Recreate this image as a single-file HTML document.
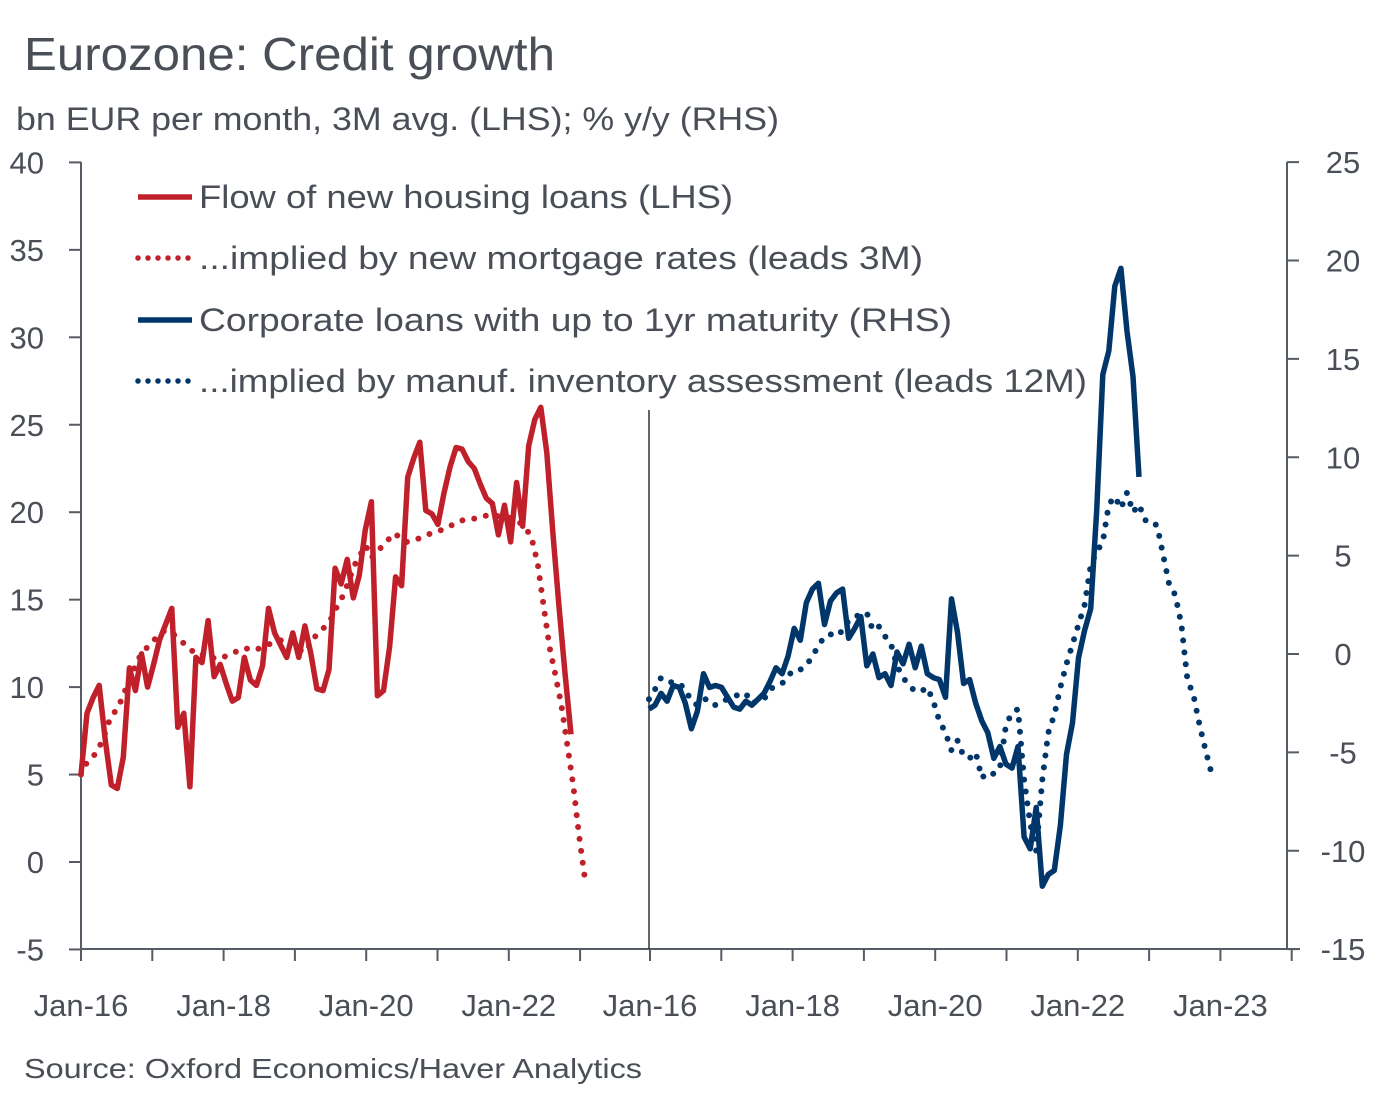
<!DOCTYPE html>
<html><head><meta charset="utf-8"><style>
html,body{margin:0;padding:0;background:#fff;}
svg{display:block;font-family:"Liberation Sans",sans-serif;}
</style></head><body>
<svg id="chart" width="1383" height="1105" viewBox="0 0 1383 1105" xmlns="http://www.w3.org/2000/svg">
<text x="24" y="70" font-size="46" fill="#4a4f57" textLength="531" lengthAdjust="spacingAndGlyphs">Eurozone: Credit growth</text>
<text x="16" y="130" font-size="32" fill="#4a4f57" textLength="763" lengthAdjust="spacingAndGlyphs">bn EUR per month, 3M avg. (LHS); % y/y (RHS)</text>
<text x="24" y="1078" font-size="28" fill="#4a4f57" textLength="618" lengthAdjust="spacingAndGlyphs">Source: Oxford Economics/Haver Analytics</text>
<g id="axes"></g>
<g id="series"></g>
<g id="legend"></g>
</svg>
<script>
// ---- data ----
const leftTicks = [40,35,30,25,20,15,10,5,0,-5];
const rightTicks = [25,20,15,10,5,0,-5,-10,-15];
const leftXLabels = ["Jan-16","Jan-18","Jan-20","Jan-22"];
const rightXLabels = ["Jan-16","Jan-18","Jan-20","Jan-22","Jan-23"];
const housingFlow = [5.0,8.5,9.4,10.1,7.0,4.4,4.2,6.0,11.1,9.8,11.9,10.0,11.3,12.7,13.6,14.5,7.7,8.5,4.3,11.7,11.4,13.8,10.6,11.3,10.2,9.2,9.4,11.7,10.4,10.1,11.2,14.5,13.1,12.4,11.7,13.1,11.7,13.5,11.9,9.9,9.8,11.0,16.8,15.9,17.3,15.1,16.4,19.0,20.6,9.5,9.8,12.3,16.3,15.8,22.0,23.1,24.0,20.1,19.9,19.3,21.1,22.6,23.7,23.6,22.9,22.5,21.6,20.8,20.5,18.7,20.4,18.3,21.7,19.2,23.8,25.3,26.0,23.4,18.8,14.6,10.8,7.3];
const housingImplied = [5.0,5.7,6.0,6.5,7.3,8.3,8.7,9.4,10.3,11.1,11.8,12.2,12.6,12.9,13.2,13.2,12.9,12.6,12.3,12.0,11.8,11.9,11.7,11.6,11.7,11.9,12.0,12.2,12.2,12.1,12.2,12.3,12.5,12.6,12.7,12.7,12.4,12.1,12.0,12.7,13.1,13.4,13.8,14.5,15.1,15.9,16.9,17.5,18.1,17.4,17.8,18.1,18.5,18.8,18.4,18.3,18.4,18.5,18.6,18.8,18.9,19.0,19.2,19.3,19.5,19.6,19.6,19.7,19.8,19.8,19.8,19.7,19.7,19.6,19.4,19.1,18.5,17.1,14.7,12.3,10.7,9.0,6.7,4.4,1.5,-1.0];
const corpLoans = [-2.8,-2.6,-2.0,-2.4,-1.6,-1.7,-2.5,-3.8,-2.9,-1.0,-1.7,-1.6,-1.7,-2.2,-2.7,-2.8,-2.4,-2.6,-2.3,-2.0,-1.4,-0.7,-1.0,-0.1,1.3,0.7,2.6,3.3,3.6,1.5,2.7,3.1,3.3,0.8,1.3,1.9,-0.6,0.0,-1.2,-1.0,-1.6,0.1,-0.5,0.5,-0.7,0.4,-1.0,-1.2,-1.3,-2.2,2.8,1.1,-1.5,-1.3,-2.5,-3.4,-4.0,-5.3,-4.7,-5.6,-5.8,-4.7,-9.3,-9.9,-7.8,-11.8,-11.2,-11.0,-8.7,-5.1,-3.5,-0.2,1.2,2.3,7.3,14.2,15.4,18.7,19.6,16.4,14.1,9.0];
const corpImplied = [-2.3,-1.8,-1.2,-1.3,-1.5,-1.5,-1.8,-2.4,-2.6,-2.3,-2.3,-2.6,-2.4,-2.3,-2.2,-2.0,-2.0,-2.5,-2.4,-2.3,-1.8,-1.6,-1.5,-1.1,-0.8,-0.8,-0.6,-0.1,0.4,0.9,1.0,0.9,1.2,1.7,1.9,2.0,2.1,1.2,1.4,0.9,0.5,-0.6,-1.2,-1.6,-1.9,-1.9,-1.7,-2.4,-3.4,-4.0,-4.9,-4.4,-5.2,-5.3,-5.0,-6.3,-6.0,-6.1,-5.8,-3.6,-3.0,-2.8,-6.4,-8.6,-10.0,-6.4,-4.0,-3.1,-1.7,-0.5,0.5,1.5,2.5,4.5,5.2,5.7,7.6,8.0,7.4,8.2,7.2,7.6,6.8,6.8,6.5,5.0,3.5,3.0,1.5,-1.3,-2.1,-3.6,-4.9,-6.1];
const legendLabels = ["Flow of new housing loans (LHS)","...implied by new mortgage rates (leads 3M)","Corporate loans with up to 1yr maturity (RHS)","...implied by manuf. inventory assessment (leads 12M)"];

// ---- scales ----
const yL = v => 862 - v*17.49;
const yR = v => 654 - v*19.675;
const xL = i => 81 + i*6.05;
const xLi = i => 81 + i*5.93;
const xR = i => 649 + i*6.05;
const tickX0L = 81, tickX0R = 650, yearPx = 71.3;
const NS = "http://www.w3.org/2000/svg";
const axes = document.getElementById('axes');
const series = document.getElementById('series');
const legend = document.getElementById('legend');
function mk(tag, attrs, parent){const e=document.createElementNS(NS,tag);for(const k in attrs)e.setAttribute(k,attrs[k]);parent.appendChild(e);return e;}
const AX = "#565c66", TX = "#4a4f57";

let e;
e = mk('line',{x1:81,y1:162,x2:81,y2:949,stroke:AX,'stroke-width':2},axes);
 
e = mk('line',{x1:1287,y1:162,x2:1287,y2:949,stroke:AX,'stroke-width':2},axes);
 
e = mk('line',{x1:81,y1:949,x2:1300,y2:949,stroke:AX,'stroke-width':2},axes);
 
e = mk('line',{x1:649,y1:410,x2:649,y2:949,stroke:"#333",'stroke-width':1.5},axes);
 

leftTicks.forEach(v=>{
  const y=yL(v);
  const t=mk('line',{x1:69,y1:y,x2:81,y2:y,stroke:AX,'stroke-width':2},axes);
   
  const l=mk('text',{x:44,y:y+11,'font-size':31,fill:TX,'text-anchor':'end'},axes);
  l.textContent=v;
   
});
rightTicks.forEach(v=>{
  const y=yR(v);
  const t=mk('line',{x1:1287,y1:y,x2:1299,y2:y,stroke:AX,'stroke-width':2},axes);
   
  const l=mk('text',{x:1343,y:y+11,'font-size':31,fill:TX,'text-anchor':'middle'},axes);
  l.textContent=v;
   
});
for(let k=0;k<8;k++){
  const x=tickX0L+k*yearPx;
  const t=mk('line',{x1:x,y1:949,x2:x,y2:961,stroke:AX,'stroke-width':2},axes);
   
}
for(let k=0;k<10;k++){
  const x=tickX0R+k*yearPx;
  const t=mk('line',{x1:x,y1:949,x2:x,y2:961,stroke:AX,'stroke-width':2},axes);
   
}
leftXLabels.forEach((s,k)=>{
  const l=mk('text',{x:tickX0L+k*2*yearPx,y:1016,'font-size':31,fill:TX,'text-anchor':'middle'},axes);
  l.textContent=s;
   
});
rightXLabels.forEach((s,k)=>{
  const x = k<4 ? tickX0R+k*2*yearPx : tickX0R+8*yearPx;
  const l=mk('text',{x:x,y:1016,'font-size':31,fill:TX,'text-anchor':'middle'},axes);
  l.textContent=s;
   
});

function pathOf(arr, xs, ys){return arr.map((v,i)=>(i?'L':'M')+xs(i).toFixed(1)+' '+ys(v).toFixed(1)).join(' ');}
const RED="#c0202a", BLUE="#00366a";
e = mk('path',{d:pathOf(housingImplied,xLi,yL),fill:'none',stroke:RED,'stroke-width':6,'stroke-dasharray':'0 12','stroke-linecap':'round','stroke-linejoin':'round'},series);
 
e = mk('path',{d:pathOf(housingFlow,xL,yL),fill:'none',stroke:RED,'stroke-width':5.5,'stroke-linejoin':'round'},series);
 
e = mk('path',{d:pathOf(corpImplied,xR,yR),fill:'none',stroke:BLUE,'stroke-width':6,'stroke-dasharray':'0 12','stroke-linecap':'round','stroke-linejoin':'round'},series);
 
e = mk('path',{d:pathOf(corpLoans,xR,yR),fill:'none',stroke:BLUE,'stroke-width':5.5,'stroke-linejoin':'round'},series);
 

const legColors=[RED,RED,BLUE,BLUE], legDot=[false,true,false,true], legY=[197,258,320,381], legW=[534,724,753,888];
legendLabels.forEach((s,k)=>{
  const ln=mk('line',{x1:138,y1:legY[k],x2:192,y2:legY[k],stroke:legColors[k],'stroke-width':5.5},legend);
  if(legDot[k]){ln.setAttribute('stroke-dasharray','0 10');ln.setAttribute('stroke-linecap','round');}
   
  const t=mk('text',{x:199,y:legY[k]+11,'font-size':32,fill:TX,textLength:legW[k],lengthAdjust:'spacingAndGlyphs'},legend);
  t.textContent=s;
   
});
</script>
</body></html>
